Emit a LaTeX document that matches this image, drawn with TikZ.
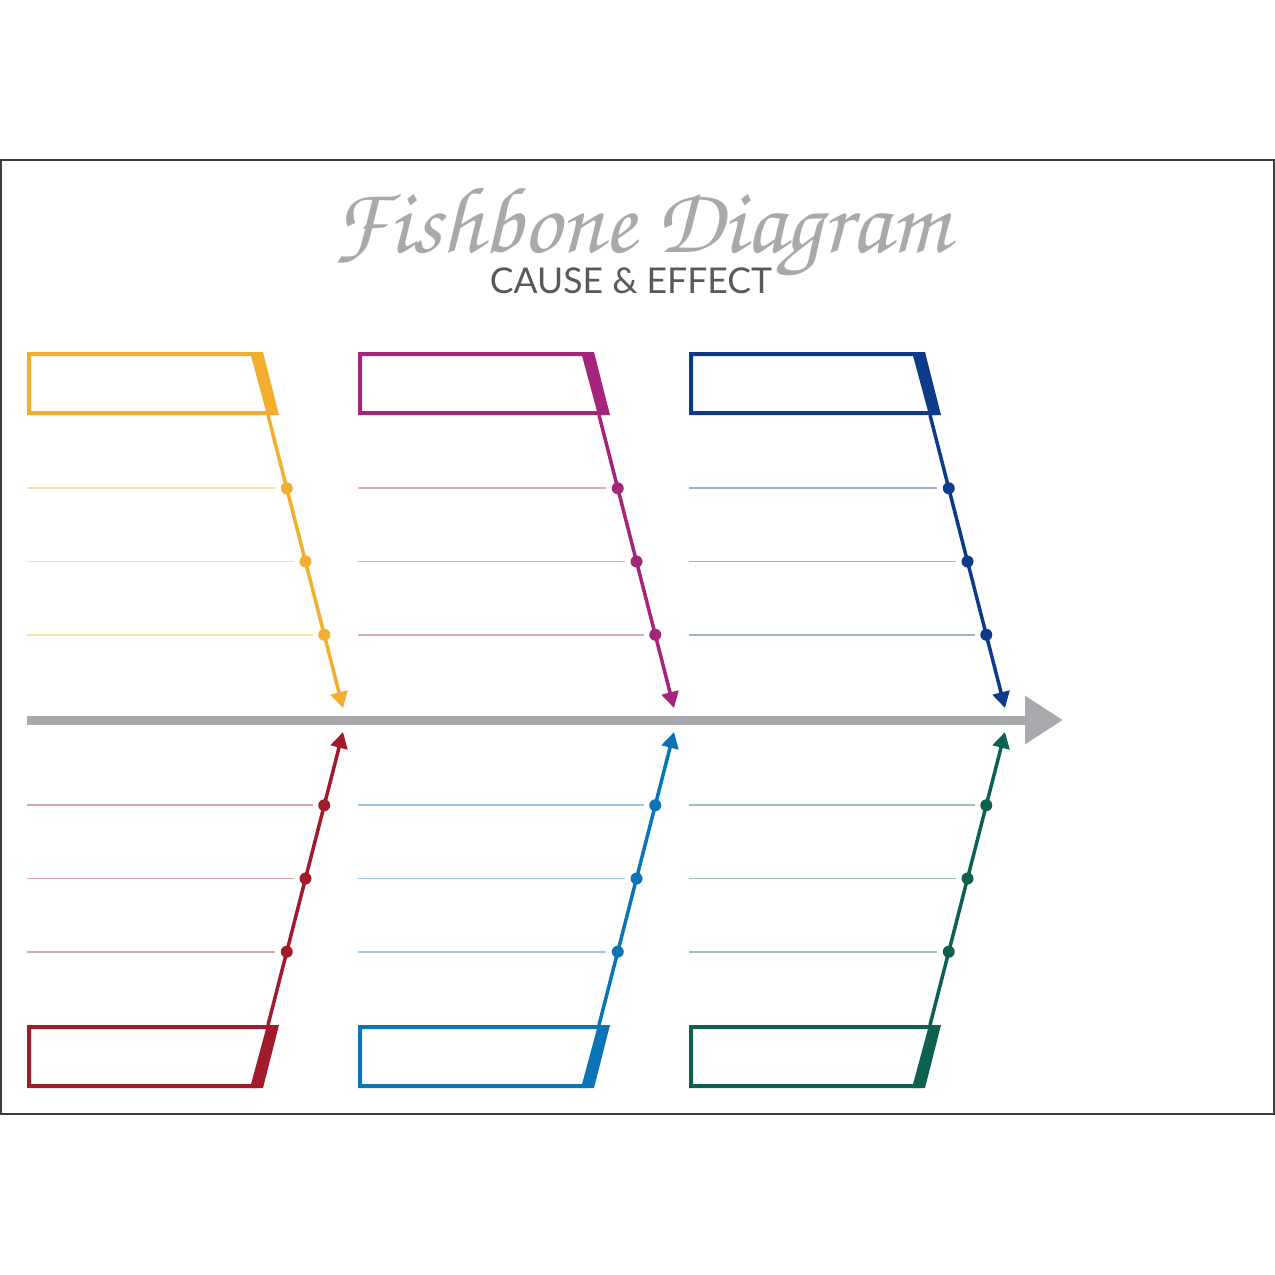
\documentclass[tikz,border=0pt]{standalone}
\usepackage{fontspec}
\usepackage{graphicx}
\usetikzlibrary{arrows.meta}
\usetikzlibrary{calc}
\newfontfamily\subtitlefont{Lato}
\definecolor{fishYellow}{HTML}{F2AE2E}
\definecolor{fishMagenta}{HTML}{A3267B}
\definecolor{fishNavy}{HTML}{0D3B8A}
\definecolor{fishRed}{HTML}{A11B2B}
\definecolor{fishBlue}{HTML}{0A74B6}
\definecolor{fishTeal}{HTML}{0C6152}
\definecolor{fishGrey}{HTML}{A7A9AC}
\definecolor{fishDark}{HTML}{58595B}
\definecolor{fishFrame}{HTML}{3C3C3C}
\tikzset{
  spine/.style = {line width=4.5pt, fishGrey, -{Triangle[length=19pt,width=23pt]}},
  bone/.style = {line width=1.75pt, -{Triangle[length=8pt,width=8.5pt]}},
  bonedot/.style = {circle, inner sep=0pt, minimum size=6pt},
  rib/.style = {line width=0.9pt},
  causebox/.style = {line width=2pt, line join=miter}
}

\begin{document}
\begin{tikzpicture}[x=0.5pt,y=-0.5pt]
  \useasboundingbox[fill=white] (0,0) rectangle (1275,1275);
  \draw[fishFrame, line width=0.75pt] (1,160) rectangle (1274,1114);

  % title
  \node[fishGrey, inner sep=0pt] (title) at (641,233)
    {\resizebox{308pt}{!}{\fontencoding{T1}\fontfamily{pzc}\selectfont Fishbone Diagram}};
  \node[fishDark, inner sep=0pt, anchor=base] (subtitle) at (631,293)
    {\resizebox{141pt}{!}{\subtitlefont CAUSE \& EFFECT}};

  % spine
  \coordinate (tail) at (27,720);
  \coordinate (head) at (1063,720);
  \draw[spine] (tail) -- (head);

  % bones, top and bottom
  \foreach \i/\up/\dn in {0/fishYellow/fishRed, 1/fishMagenta/fishBlue, 2/fishNavy/fishTeal} {
    \begin{scope}[xshift={\i*165.5pt}]
      \foreach \side/\s/\col in {T/1/\up, B/-1/\dn} {
        \draw[causebox, \col] (29,{720-\s*366}) -- (255,{720-\s*366})
          -- (272,{720-\s*307}) -- (29,{720-\s*307}) -- cycle;
        \fill[\col] (250,{720-\s*368}) -- (263,{720-\s*368})
          -- (279,{720-\s*305}) -- (267,{720-\s*305}) -- cycle;
        \coordinate (root\side\i) at (268,{720-\s*305});
        \coordinate (tip\side\i) at (343,{720-\s*12});
        \draw[bone, \col] (root\side\i) -- (tip\side\i);
        \foreach \k/\p in {1/0.25, 2/0.5, 3/0.75} {
          \node[bonedot, fill=\col] (dot\side\i\k) at ($(root\side\i)!\p!(tip\side\i)$) {};
          \coordinate (rib\side\i\k) at (27,0 |- dot\side\i\k);
          \draw[rib, \col!40, shorten >=2.5pt] (rib\side\i\k) -- (dot\side\i\k.west);
        }
      }
    \end{scope}
  }
\end{tikzpicture}
\end{document}
